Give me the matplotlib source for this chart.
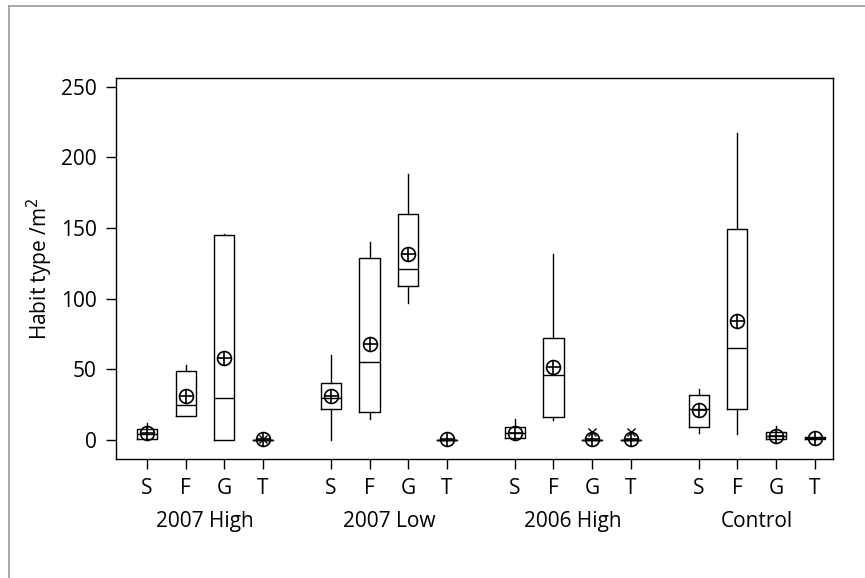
import numpy as np
import matplotlib.pyplot as plt
from matplotlib.lines import Line2D

plt.rcParams['font.family'] = ['Open Sans', 'DejaVu Sans']

groups = ["2007 High", "2007 Low", "2006 High", "Control"]
cats = ["S", "F", "G", "T"]

# per group: S, F, G, T
whislo = [[0, 17, 0, 0], [0, 15, 97, 0], [1, 14, 0, 0], [5, 4, 0.5, 0]]
q1 = [[1, 17, 0, 0], [22, 20, 109, 0], [1.5, 16, 0, 0], [9, 22, 1, 0.5]]
med = [[4, 25, 30, 0], [30, 55, 121, 0], [5, 46, 0, 0], [22, 65, 3, 1.5]]
q3 = [[8, 49, 145, 0], [40, 129, 160, 0], [9, 72, 0, 0], [32, 149, 6, 2]]
whishi = [[12, 53, 146, 0], [60, 140, 188, 0], [15, 132, 0, 0], [36, 217, 10, 2]]
means = [[5, 31, 58, 0.5], [31, 68, 132, 1], [5, 52, 1, 1], [21, 84, 3, 1.5]]
fliers = [[[], [], [], [1]], [[], [], [], []], [[], [], [6], [6]], [[], [], [], []]]

fig = plt.figure(figsize=(8.65, 5.78), dpi=100)
ax = fig.add_axes([0.134, 0.206, 0.829, 0.659])

stats = []
pos = []
for g in range(4):
    for i in range(4):
        stats.append(dict(whislo=whislo[g][i], q1=q1[g][i], med=med[g][i],
                          q3=q3[g][i], whishi=whishi[g][i], fliers=fliers[g][i]))
        pos.append(g * 4.75 + i)

lp = dict(color="black", linewidth=1.0)
ax.bxp(stats, positions=pos, widths=0.52, showcaps=False,
       boxprops=lp, whiskerprops=lp, medianprops=lp,
       flierprops=dict(marker="x", markersize=6, markeredgecolor="black", markeredgewidth=1.0))

m = np.array(means).ravel()
ax.plot(pos, m, "o", ms=10, mfc="none", mec="black", mew=1.2, ls="none")
ax.plot(pos, m, "+", ms=10, mec="black", mew=1.2, ls="none")

ax.set_xlim(-0.8, 17.72)
ax.set_ylim(-13.4, 256.2)
ax.set_yticks([0, 50, 100, 150, 200, 250])
ax.set_xticks(pos)
ax.set_xticklabels(cats * 4)
ax.tick_params(axis="both", direction="out", length=7, width=1.0, labelsize=15, pad=7)
for s in ax.spines.values():
    s.set_linewidth(1.0)
ax.set_ylabel("Habit type /m$^2$", fontsize=15, labelpad=4)

for g, name in enumerate(groups):
    ax.text(g * 4.75 + 1.5, -0.165, name, transform=ax.get_xaxis_transform(),
            ha="center", va="center", fontsize=15)

# grey frame at top and left of the figure
fig.add_artist(Line2D([9 / 865, 1], [1 - 6 / 578, 1 - 6 / 578], color="#999999", lw=1.2))
fig.add_artist(Line2D([9 / 865, 9 / 865], [0, 1 - 6 / 578], color="#999999", lw=1.2))

fig.savefig("out.png", dpi=100)
